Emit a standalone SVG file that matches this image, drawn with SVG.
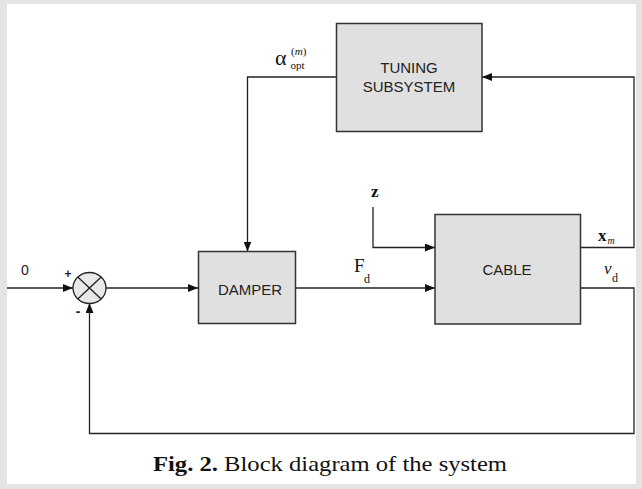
<svg xmlns="http://www.w3.org/2000/svg" width="642" height="489" viewBox="0 0 642 489">
<style>
.box{fill:#e0e0e0;stroke:#333;stroke-width:1.5}
.ln{fill:none;stroke:#222;stroke-width:1.3}
.sans{font-family:"Liberation Sans",Arial,sans-serif;fill:#222}
.serif{font-family:"Liberation Serif","Times New Roman",serif;fill:#111}
</style>
<defs>
<marker id="ah" viewBox="0 0 10 8" refX="10" refY="4" markerWidth="10" markerHeight="8" markerUnits="userSpaceOnUse" orient="auto">
<path d="M0,0 L10,4 L0,8 Z" fill="#111"/>
</marker>
</defs>
<rect x="0" y="0" width="642" height="489" fill="#e4e4e4"/>
<rect x="7" y="4" width="629" height="480" fill="#ffffff"/>

<g id="connectors">
<path class="ln" d="M7,288 H73" marker-end="url(#ah)"/>
<path class="ln" d="M106,288 H198" marker-end="url(#ah)"/>
<path class="ln" d="M296,288 H435" marker-end="url(#ah)"/>
<path class="ln" d="M373,207 V247.5 H435" marker-end="url(#ah)"/>
<path class="ln" d="M581,247.5 H634 V77 H482" marker-end="url(#ah)"/>
<path class="ln" d="M336.5,77 H247.5 V251.5" marker-end="url(#ah)"/>
<path class="ln" d="M581,288 H634 V433.5 H89.5 V303" marker-end="url(#ah)"/>
</g>

<g id="sum">
<ellipse cx="89.5" cy="288" rx="16.5" ry="15.5" fill="#e8e8e8" stroke="#222" stroke-width="1.3"/>
<path class="ln" d="M77.8,277 L101.2,299 M101.2,277 L77.8,299"/>
<text class="sans" x="68" y="278" font-size="12" font-weight="bold" text-anchor="middle">+</text>
<text class="sans" x="78" y="316" font-size="14" font-weight="bold" text-anchor="middle">-</text>
</g>

<g id="input-label">
<text class="sans" x="25" y="275" font-size="14" text-anchor="middle">0</text>
</g>

<g id="tuning">
<rect class="box" x="336.5" y="23.5" width="145.5" height="108"/>
<text class="sans" x="409" y="73" font-size="15" text-anchor="middle">TUNING</text>
<text class="sans" x="409" y="92" font-size="15" text-anchor="middle">SUBSYSTEM</text>
</g>

<g id="damper">
<rect class="box" x="198.5" y="251.5" width="97" height="72"/>
<text class="sans" x="250" y="294.5" font-size="15" text-anchor="middle">DAMPER</text>
</g>

<g id="cable">
<rect class="box" x="435" y="214.5" width="145.5" height="109.5"/>
<text class="sans" x="507" y="275" font-size="15" text-anchor="middle">CABLE</text>
</g>

<g id="labels">
<text class="serif" x="275" y="65" font-size="22">α</text>
<text class="serif" x="291" y="55" font-size="11">(<tspan font-style="italic">m</tspan>)</text>
<text class="serif" x="290.5" y="69" font-size="11">opt</text>
<text class="serif" x="354" y="272" font-size="19">F</text>
<text class="serif" x="364" y="283" font-size="12">d</text>
<text class="serif" x="371" y="197" font-size="17" font-weight="bold">z</text>
<text class="serif" x="598" y="241" font-size="17" font-weight="bold">x</text>
<text class="serif" x="607.5" y="244" font-size="10" font-style="italic">m</text>
<text class="serif" x="604" y="274" font-size="17" font-style="italic">v</text>
<text class="serif" x="612" y="282" font-size="12">d</text>
</g>

<g id="caption">
<text class="serif" x="153" y="471" font-size="21" textLength="354" lengthAdjust="spacingAndGlyphs"><tspan font-weight="bold">Fig. 2.</tspan> Block diagram of the system</text>
</g>
</svg>
